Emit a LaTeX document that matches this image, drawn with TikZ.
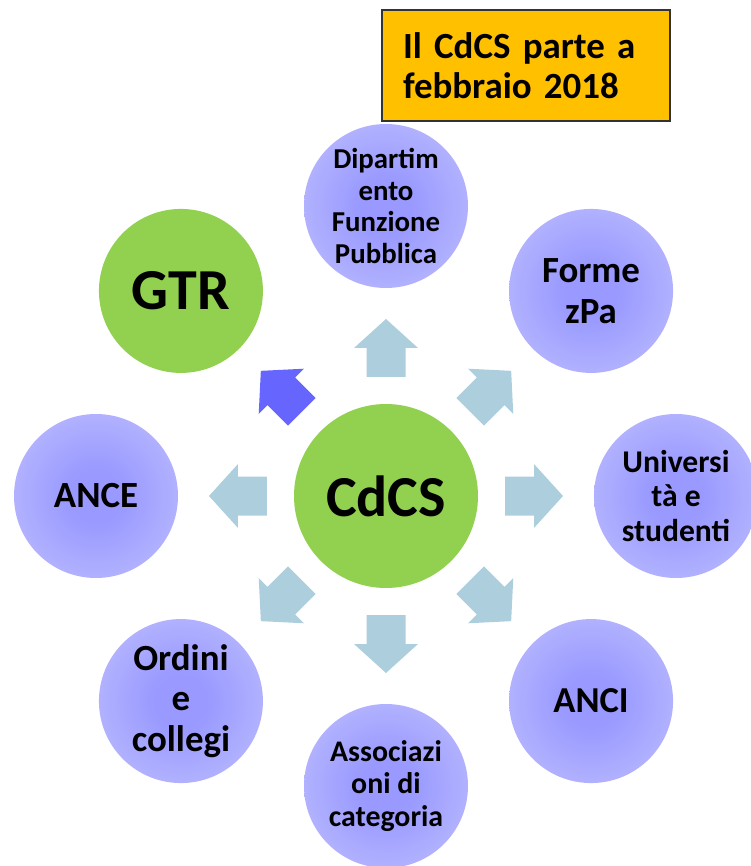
\documentclass[tikz,border=0pt]{standalone}
\usepackage{fontspec}
\setmainfont{Carlito}
\usepackage{tikz}
\usetikzlibrary{calc}
\definecolor{cdcsgreen}{HTML}{92D050}
\definecolor{orbin}{HTML}{9999FF}
\definecolor{orbout}{HTML}{CCCCFF}
\definecolor{arrowblue}{HTML}{ADCFDD}
\definecolor{gtrarrow}{HTML}{6666FF}
\definecolor{notegold}{HTML}{FFC000}
\pgfdeclareradialshading{orbshade}{\pgfpoint{0cm}{0cm}}{color(0bp)=(orbin); color(8bp)=(orbin); color(44bp)=(orbout); color(50bp)=(orbout)}
\tikzset{
    orb/.style={circle, shading=orbshade, minimum size=3.28cm, inner sep=0pt, align=center},
    hub/.style={circle, fill=cdcsgreen, minimum size=3.28cm, inner sep=0pt, align=center, font=\fontsize{33}{40}\selectfont\bfseries},
    blockarrow/.style={fill=arrowblue}
}
\newcommand*\fsize[1]{\fontsize{#1}{1.1\dimexpr#1pt\relax}\selectfont\bfseries}
\begin{document}
\begin{tikzpicture}
    \useasboundingbox (-7.72,-7.40) rectangle (7.28,9.92);
    \coordinate (posDip) at (90:5.8);
    \coordinate (posForme) at (45:5.8);
    \coordinate (posUni) at (0:5.8);
    \coordinate (posAnci) at (-45:5.8);
    \coordinate (posAss) at (-90:5.8);
    \coordinate (posOrd) at (-135:5.8);
    \coordinate (posAnce) at (180:5.8);
    \coordinate (posGtr) at (135:5.8);
    %
    \foreach \a in {90,45,0,-45,-90,-135,180}
        \fill[blockarrow, rotate=\a] (2.38,-0.39) -- (2.96,-0.39) -- (2.96,-0.64) -- (3.54,0) -- (2.96,0.64) -- (2.96,0.39) -- (2.38,0.39) -- cycle;
    \fill[fill=gtrarrow, rotate=135] (2.38,-0.39) -- (2.96,-0.39) -- (2.96,-0.64) -- (3.54,0) -- (2.96,0.64) -- (2.96,0.39) -- (2.38,0.39) -- cycle;
    %
    \node[hub, minimum size=3.68cm] at (0,0) (nodeCdcs) {CdCS};
    \node[hub] at (posGtr) (nodeGtr) {GTR};
    \node[orb, font=\fsize{16.4}] at (posDip) (nodeDip) {Dipartim\\ento\\Funzione\\Pubblica};
    \node[orb, font=\fsize{21}] at (posForme) (nodeForme) {Forme\\zPa};
    \node[orb, font=\fsize{18}] at (posUni) (nodeUni) {Universi\\tà e\\studenti};
    \node[orb, font=\fsize{20.8}] at (posAnci) (nodeAnci) {ANCI};
    \node[orb, font=\fsize{17}] at (posAss) (nodeAss) {Associazi\\oni di\\categoria};
    \node[orb, font=\fsize{21}] at (posOrd) (nodeOrd) {Ordini\\e\\collegi};
    \node[orb, font=\fsize{21}] at (posAnce) (nodeAnce) {ANCE};
    %
    \node[draw=black!80, line width=0.8pt, fill=notegold, minimum width=5.76cm, minimum height=2.22cm, text width=4.92cm, align=left, inner sep=0pt, font=\fsize{21}] at (2.8,8.61) (nodeNote) {Il CdCS parte a\\febbraio 2018};
\end{tikzpicture}
\end{document}
